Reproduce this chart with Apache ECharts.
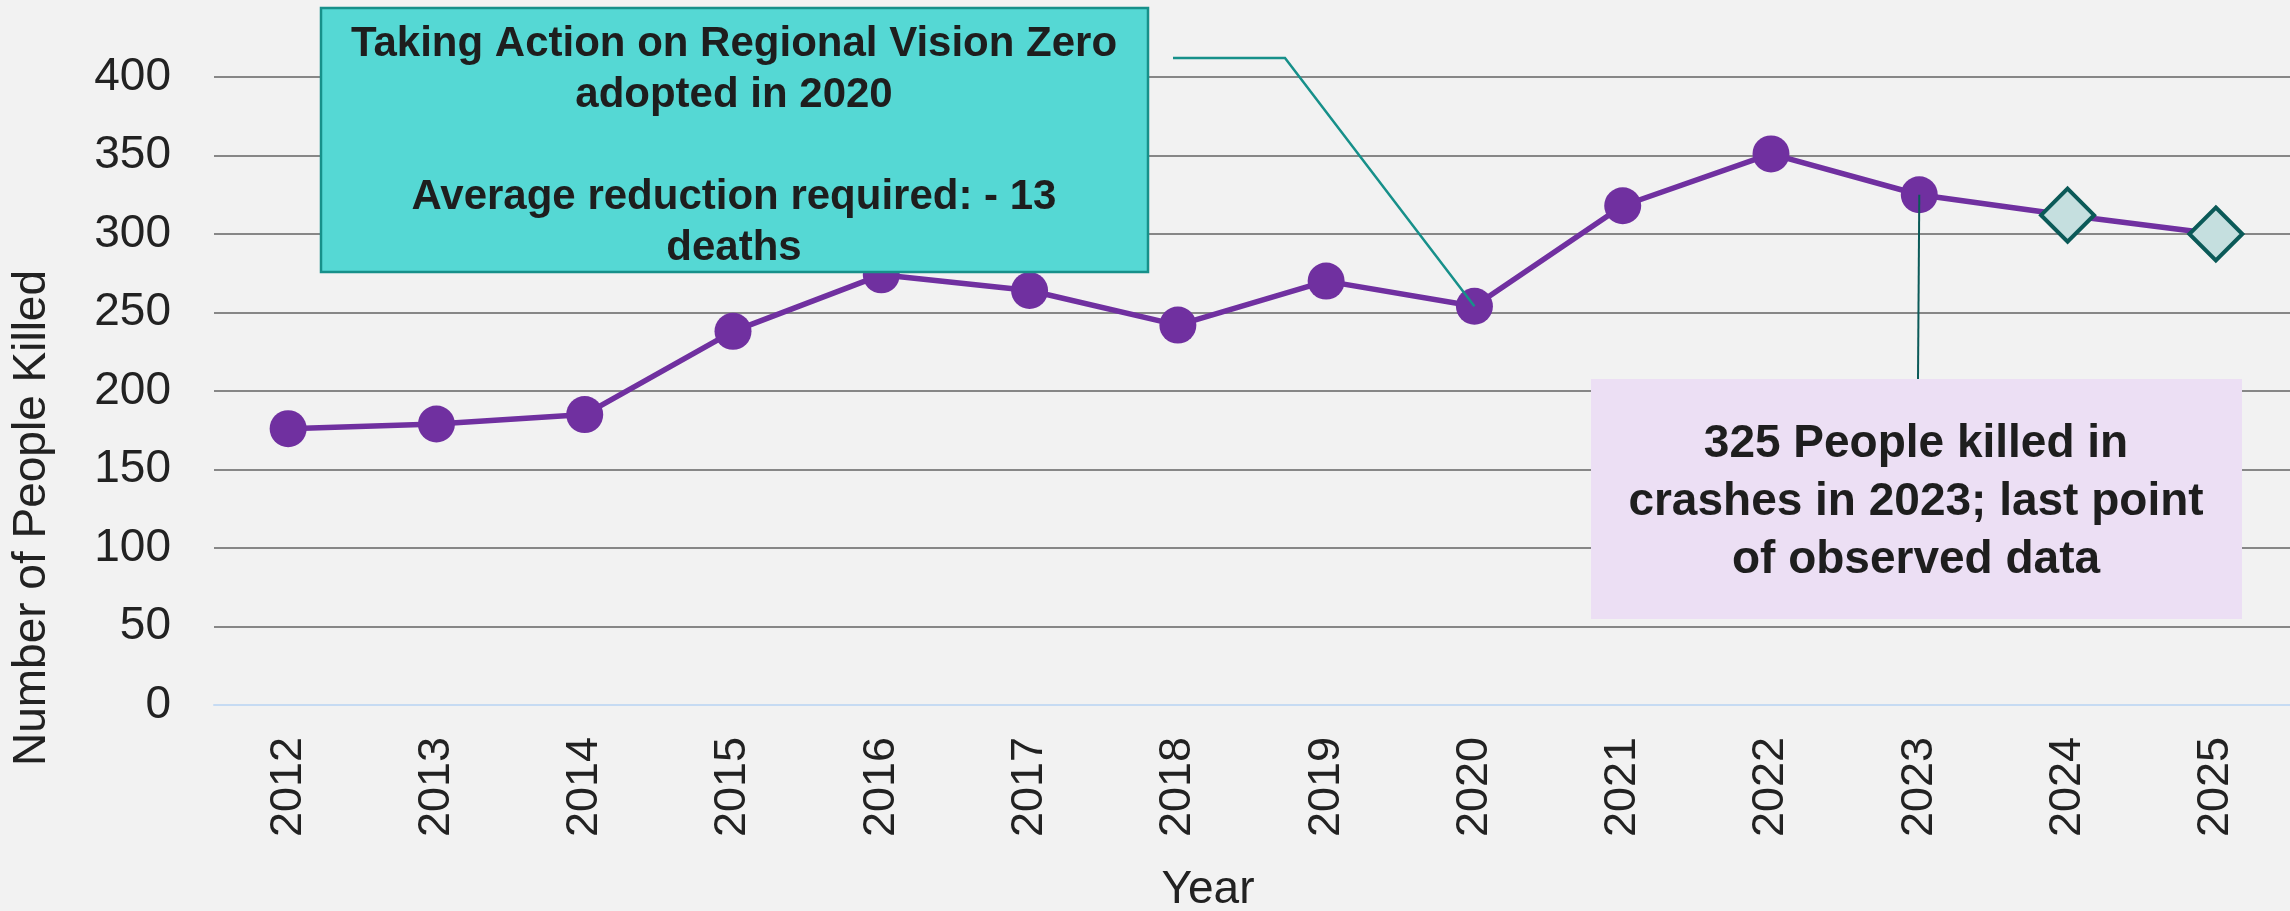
<!DOCTYPE html>
<html>
<head>
<meta charset="utf-8">
<script src="https://cdn.jsdelivr.net/npm/echarts@6/dist/echarts.min.js"></script>
<style>
html,body{margin:0;padding:0;background:#f2f2f2;}
#chart{width:2290px;height:911px;}
</style>
</head>
<body>
<div id="chart"></div>
<script>
const years = ['2012','2013','2014','2015','2016','2017','2018','2019','2020','2021','2022','2023','2024','2025'];
const observedValues = [176, 179, 185, 238, 274, 264, 242, 270, 254, 318, 351, 325];
const projectedValues = [312, 300];
const yTicks = { min: 0, max: 400, interval: 50 };
const box1Lines = ['Taking Action on Regional Vision Zero', 'adopted in 2020', '', 'Average reduction required: - 13', 'deaths'];
const box2Lines = ['325 People killed in', 'crashes in 2023; last point', 'of observed data'];
const yAxisTitle = 'Number of People Killed';
const xAxisTitle = 'Year';

const FONT = '"Liberation Sans", Arial, sans-serif';
const seriesData = observedValues.map(v => ({ value: v }))
  .concat(projectedValues.map(v => ({
    value: v,
    symbol: 'diamond',
    symbolSize: 53,
    itemStyle: { color: '#c5dfdf', borderColor: '#0b5a58', borderWidth: 4 }
  })));

const chart = echarts.init(document.getElementById('chart'));
const option = {
  backgroundColor: '#f2f2f2',
  animation: false,
  grid: { left: 214, right: 0, top: 77, bottom: 206 },
  xAxis: {
    type: 'category',
    data: years,
    boundaryGap: true,
    axisLine: { show: true, lineStyle: { color: '#c6dbf3', width: 2 } },
    axisTick: { show: false },
    axisLabel: { rotate: 90, fontSize: 45, color: '#222', fontFamily: FONT, margin: 32 }
  },
  yAxis: {
    type: 'value',
    min: yTicks.min, max: yTicks.max, interval: yTicks.interval,
    axisLine: { show: false },
    axisTick: { show: false },
    splitLine: { lineStyle: { color: '#878787', width: 2 } },
    axisLabel: { fontSize: 46, color: '#222', fontFamily: FONT, margin: 43 }
  },
  series: [{
    type: 'line',
    data: seriesData,
    symbol: 'circle',
    symbolSize: 37,
    lineStyle: { color: '#7030a0', width: 5.5 },
    itemStyle: { color: '#7030a0' },
    z: 3
  }]
};
chart.setOption(option);

const p2020 = chart.convertToPixel({ seriesIndex: 0 }, ['2020', observedValues[8]]);
const p2023 = chart.convertToPixel({ seriesIndex: 0 }, ['2023', observedValues[11]]);

chart.setOption({
  graphic: [
    { type: 'text', z: 50, x: 32, y: 518, rotation: Math.PI / 2,
      style: { text: yAxisTitle, font: '46px ' + FONT, fill: '#222', align: 'center', verticalAlign: 'middle' } },
    { type: 'text', z: 50, x: 1208, y: 890,
      style: { text: xAxisTitle, font: '46px ' + FONT, fill: '#222', align: 'center', verticalAlign: 'middle' } },
    { type: 'polyline', z: 60,
      shape: { points: [[1173, 58], [1285, 58], [p2020[0], p2020[1]]] },
      style: { stroke: '#17908a', lineWidth: 2.5, fill: null } },
    { type: 'line', z: 60,
      shape: { x1: p2023[0], y1: p2023[1], x2: 1918, y2: 379 },
      style: { stroke: '#0b5a58', lineWidth: 2 } },
    { type: 'rect', z: 70,
      shape: { x: 321, y: 8, width: 827, height: 264 },
      style: { fill: '#55d8d4', stroke: '#17908a', lineWidth: 2.5 } },
    { type: 'text', z: 71, x: 734, y: 146,
      style: { text: box1Lines.join('\n'), font: 'bold 42px ' + FONT, fill: '#1e1e1e',
        align: 'center', verticalAlign: 'middle', lineHeight: 51 } },
    { type: 'rect', z: 70,
      shape: { x: 1591, y: 379, width: 651, height: 240 },
      style: { fill: '#ecdff4' } },
    { type: 'text', z: 71, x: 1916, y: 502,
      style: { text: box2Lines.join('\n'), font: 'bold 46px ' + FONT, fill: '#1e1e1e',
        align: 'center', verticalAlign: 'middle', lineHeight: 58 } }
  ]
});
</script>
</body>
</html>
